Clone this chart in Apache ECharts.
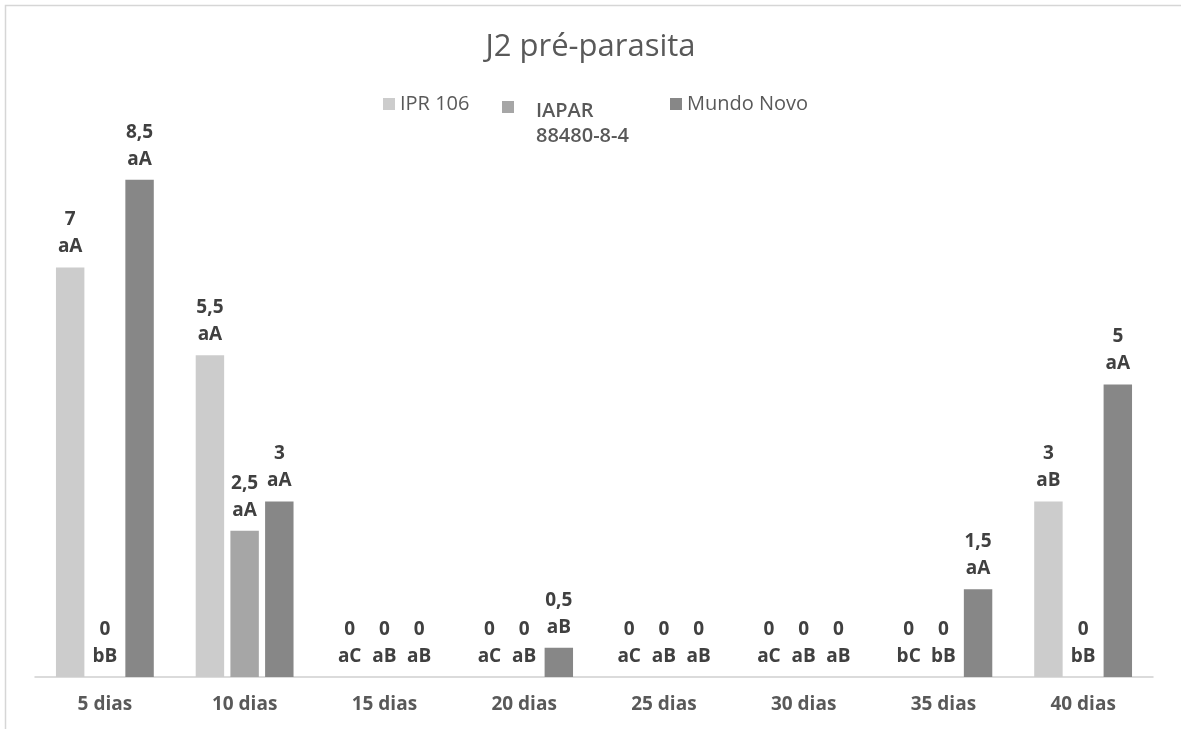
<!DOCTYPE html>
<html>
<head>
<meta charset="utf-8">
<script src="https://cdn.jsdelivr.net/npm/echarts@6/dist/echarts.min.js"></script>
<style>
  html, body { margin: 0; padding: 0; background: #ffffff; }
  #chart { width: 1181px; height: 729px; }
</style>
</head>
<body>
<div id="chart"></div>
<script>
// Days after inoculation
const categories = ['5 dias', '10 dias', '15 dias', '20 dias', '25 dias', '30 dias', '35 dias', '40 dias'];

// Pre-parasitic J2 counts per cultivar
const seriesNames = ['IPR 106', 'IAPAR 88480-8-4', 'Mundo Novo'];
const iprValues = [7, 5.5, 0, 0, 0, 0, 0, 3];
const iaparValues = [0, 2.5, 0, 0, 0, 0, 0, 0];
const mundoValues = [8.5, 3, 0, 0.5, 0, 0, 1.5, 5];

// Statistical grouping letters shown under each value
const iprLetters = ['aA', 'aA', 'aC', 'aC', 'aC', 'aC', 'bC', 'aB'];
const iaparLetters = ['bB', 'aA', 'aB', 'aB', 'aB', 'aB', 'bB', 'bB'];
const mundoLetters = ['aA', 'aA', 'aB', 'aB', 'aB', 'aB', 'aA', 'aA'];

const colors = ['#cccccc', '#a6a6a6', '#878787'];
const FONT = '"Open Sans", "Noto Sans", sans-serif';

function decimalComma(v) {
  return String(v).replace('.', ',');
}

function makeSeries(name, values, letters, color) {
  return {
    name: name,
    type: 'bar',
    data: values,
    barGap: '22%',
    barCategoryGap: '30%',
    itemStyle: { color: color },
    label: {
      show: true,
      position: 'top',
      distance: 7,
      color: '#404040',
      fontFamily: FONT,
      fontSize: 19,
      fontWeight: 'bold',
      lineHeight: 27,
      formatter: function (p) {
        return decimalComma(p.value) + '\n' + letters[p.dataIndex];
      }
    }
  };
}

const legendText = { color: '#595959', fontFamily: FONT, fontSize: 20, lineHeight: 24 };

const chart = echarts.init(document.getElementById('chart'), null, { renderer: 'canvas' });
chart.setOption({
  animation: false,
  backgroundColor: '#ffffff',
  color: colors,
  title: {
    text: 'J2 pré-parasita',
    left: 'center',
    top: 32,
    padding: 0,
    textStyle: { color: '#595959', fontFamily: FONT, fontSize: 31, fontWeight: 'normal' }
  },
  legend: [
    {
      data: [seriesNames[0]],
      left: 383, top: 92, padding: 0,
      itemWidth: 12, itemHeight: 12, icon: 'rect',
      selectedMode: false,
      textStyle: legendText
    },
    {
      data: [seriesNames[1]],
      left: 502, top: 77, padding: 0,
      itemWidth: 12, itemHeight: 12, icon: 'rect',
      selectedMode: false,
      // two-line name; a spacer line keeps the marker level with "IAPAR"
      formatter: function () { return '{s| }\n{t|IAPAR}\n{t|88480-8-4}'; },
      textStyle: {
        color: '#595959', fontFamily: FONT, fontSize: 20, fontWeight: 600,
        padding: [0, 0, 0, 17],
        rich: {
          s: { fontSize: 10, lineHeight: 33 },
          t: { color: '#595959', fontFamily: FONT, fontSize: 20, fontWeight: 600, lineHeight: 25 }
        }
      }
    },
    {
      data: [seriesNames[2]],
      left: 670, top: 92, padding: 0,
      itemWidth: 12, itemHeight: 12, icon: 'rect',
      selectedMode: false,
      textStyle: legendText
    }
  ],
  grid: { left: 35, right: 28, top: 92, bottom: 52, containLabel: false },
  xAxis: {
    type: 'category',
    data: categories,
    axisLine: { show: true, lineStyle: { color: '#d0d0d0', width: 1.5 } },
    axisTick: { show: false },
    axisLabel: {
      color: '#595959', fontFamily: FONT, fontSize: 19, fontWeight: 'bold', margin: 18
    }
  },
  yAxis: {
    type: 'value',
    min: 0,
    max: 10,
    show: false,
    splitLine: { show: false }
  },
  series: [
    makeSeries(seriesNames[0], iprValues, iprLetters, colors[0]),
    makeSeries(seriesNames[1], iaparValues, iaparLetters, colors[1]),
    makeSeries(seriesNames[2], mundoValues, mundoLetters, colors[2])
  ],
  graphic: [
    {
      type: 'rect',
      silent: true,
      shape: { x: 5.5, y: 5.5, width: 1400, height: 1000 },
      style: { fill: 'none', stroke: '#d6d6d6', lineWidth: 1.5 }
    }
  ]
});
</script>
</body>
</html>
